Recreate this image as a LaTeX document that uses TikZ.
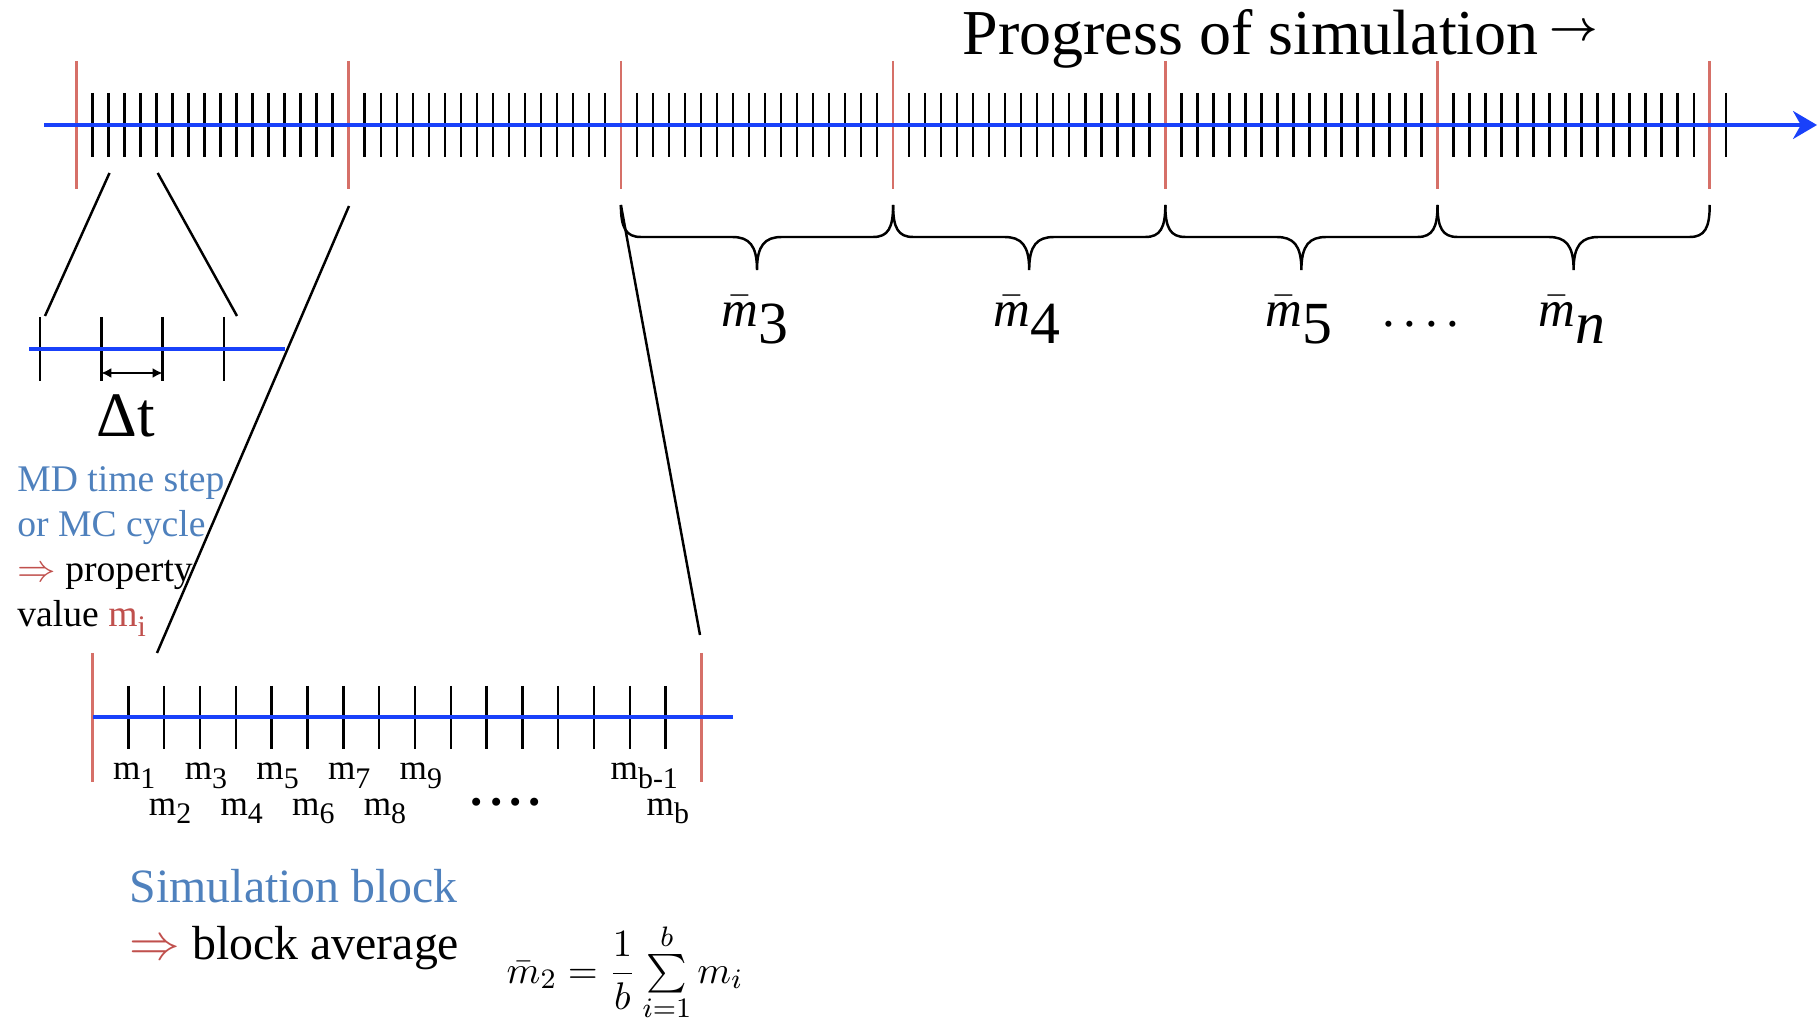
\documentclass[tikz,border=0pt]{standalone}
\usepackage{amsmath}
\usepackage{amssymb}
\usepackage{fontspec}
\setmainfont{Liberation Serif}
\usepackage{tikz}
\usepackage{xcolor}
\usetikzlibrary{arrows.meta}

\definecolor{ejeazul}{RGB}{25,65,250}
\definecolor{rojobloque}{RGB}{214,112,104}
\definecolor{textoazul}{RGB}{79,129,189}
\definecolor{textorojo}{RGB}{192,80,77}

% valor m_i y promedio de bloque
\newcommand{\mval}[1]{m\raisebox{-0.25em}{\fontsize{8.5}{9}\selectfont #1}}
\newcommand{\mprom}[1]{$\bar{\text{\itshape m}}$\raisebox{-0.33em}{\fontsize{17}{17}\selectfont #1}}

\begin{document}
\begin{tikzpicture}[x=0.01cm, y=-0.01cm,
			 marca/.style={line width=0.7pt},
			 limite/.style={rojobloque, line width=0.7pt},
			 eje/.style={ejeazul, line width=0.9pt},
			 enlace/.style={line width=0.7pt},
			 llave/.style={line width=0.7pt},
			 etiqueta/.style={inner sep=0pt, anchor=base west}
  		]
	\useasboundingbox (0,0) rectangle (1818,1028);

	%Eje principal de la simulacion
		\coordinate (ini) at (44,125);
		\coordinate (fin) at (1817,125);
		\foreach \i in {0,...,103}
			\draw[marca] ({76.5+16.012*\i},93) -- ({76.5+16.012*\i},157);
		\foreach \k in {0,...,6}
			\draw[limite] ({76.5+272.2*\k},61) -- ({76.5+272.2*\k},189);
		\draw[eje, -{Stealth[length=0.24cm, width=0.28cm]}] (ini) -- (fin);
		\node[etiqueta, font=\fontsize{18.2}{20}\selectfont] (titulo) at (962,55)
			{Progress of simulation\kern3pt\raisebox{4.2pt}{\fontsize{13}{14}\selectfont\boldmath$\rightarrow$}};

	%Llaves de los bloques
		\foreach \k in {2,...,6}
			\coordinate (b\k) at ({76.5+272.2*\k},205);
		\foreach \k [evaluate=\k as \s using int(\k+1)] in {2,...,5}
			\draw[llave] (b\k) .. controls +(0,23) and +(-15,0) .. ++(20,32) -- ++(91.1,0)
				.. controls +(17,0) and +(0,-25) .. ++(25,33)
				.. controls +(0,-25) and +(-17,0) .. ++(25,-33) -- ++(91.1,0)
				.. controls +(15,0) and +(0,23) .. (b\s);
		\node[etiqueta, font=\fontsize{14.5}{17}\selectfont] (prom3) at (721,327) {\mprom{3}};
		\node[etiqueta, font=\fontsize{14.5}{17}\selectfont] (prom4) at (993,327) {\mprom{4}};
		\node[etiqueta, font=\fontsize{14.5}{17}\selectfont] (prom5) at (1265,327) {\mprom{5}};
		\node[etiqueta, font=\fontsize{14.5}{17}\selectfont] (puntos) at (1382,327) {.\kern2.4pt.\kern2.4pt.\kern2.4pt.};
		\node[etiqueta, font=\fontsize{14.5}{17}\selectfont] (promn) at (1538,327) {\mprom{\itshape n}};

	%Ampliacion de un paso
		\coordinate (a1) at (109.5,173);
		\coordinate (a2) at (157.7,173);
		\coordinate (c1) at (45,316);
		\coordinate (c2) at (237,316);
		\coordinate (p0) at (29,349);
		\coordinate (p1) at (285,349);
		\foreach \i in {0,...,3}
			\draw[marca] ({40+61.3*\i},317) -- ({40+61.3*\i},381);
		\draw[eje] (p0) -- (p1);
		\draw[enlace] (a1) -- (c1);
		\draw[enlace] (a2) -- (c2);
		\coordinate (dt1) at (101.3,373);
		\coordinate (dt2) at (162.6,373);
		\draw[line width=0.6pt, {Latex[length=0.1cm, width=0.1cm]}-{Latex[length=0.1cm, width=0.1cm]}] (dt1) -- (dt2);
		\node[inner sep=0pt, anchor=base, font=\fontsize{18}{20}\selectfont] (dt) at (126,437) {Δt};
		\node[anchor=north west, inner sep=0pt, align=left, font=\fontsize{10.7}{12.8}\selectfont] (nota) at (16.7,466)
			{\textcolor{textoazul}{MD time step}\\ \textcolor{textoazul}{or MC cycle}\\
			 \textcolor{textorojo}{$\Rightarrow$} property\\ value \textcolor{textorojo}{\mval{i}}};

	%Ampliacion de un bloque
		\coordinate (s1) at (349,206);
		\coordinate (s2) at (157,653);
		\coordinate (s4) at (700,635);
		\draw[enlace] (s1) -- (s2);
		\draw[enlace] (b2) -- (s4);
		\coordinate (q0) at (93,717);
		\coordinate (q1) at (733,717);
		\foreach \i in {1,...,16}
			\draw[marca] ({92.6+35.82*\i},686) -- ({92.6+35.82*\i},749);
		\draw[limite] (92.6,653) -- (92.6,782);
		\draw[limite] (701.5,653) -- (701.5,782);
		\draw[eje] (q0) -- (q1);
		\foreach \i in {1,...,9}
			\node[etiqueta, font=\fontsize{10}{12}\selectfont] (m\i) at ({76.6+35.82*\i},{780+35*(1-mod(\i,2))}) {\mval{\i}};
		\node[etiqueta, font=\fontsize{10}{12}\selectfont] (mb1) at (610,780) {\mval{b-1}};
		\node[etiqueta, font=\fontsize{10}{12}\selectfont] (mb) at (646,815) {\mval{b}};
		\node[etiqueta, font=\bfseries\fontsize{14}{16}\selectfont] (dots) at (470,806) {.\kern2pt.\kern2pt.\kern2pt.};

	%Promedio del bloque
		\node[anchor=north west, inner sep=0pt, align=left, font=\fontsize{13.6}{16}\selectfont] (bloque) at (129,869)
			{\textcolor{textoazul}{Simulation block}\\ \textcolor{textorojo}{$\Rightarrow$} block average};
		\node[etiqueta, font=\fontsize{10.95}{13}\selectfont] (formula) at (506,983)
			{$\bar{m}_2 = \dfrac{1}{b}\sum\limits_{i=1}^{b} m_i$};
	\end{tikzpicture}
\end{document}
